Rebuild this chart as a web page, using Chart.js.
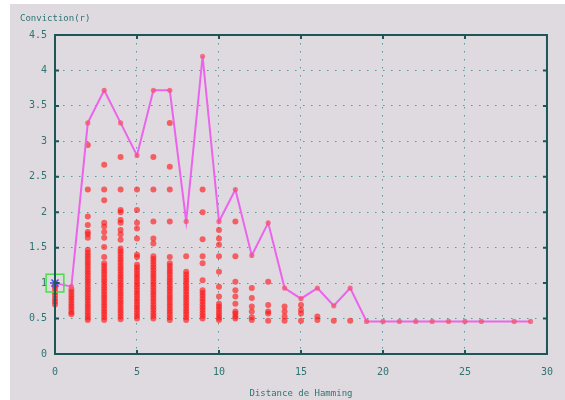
<!DOCTYPE html>
<html>
<head>
<meta charset="utf-8">
<script src="https://cdn.jsdelivr.net/npm/chart.js@4/dist/chart.umd.min.js"></script>
<style>
  html, body { margin: 0; padding: 0; background: #ffffff; }
  #c { display: block; }
</style>
</head>
<body>
<canvas id="c" width="565" height="400"></canvas>
<script>
// Upper envelope: highest conviction reached at each Hamming distance
const hammingDistance = [0, 1, 2, 3, 4, 5, 6, 7, 8, 9, 10, 11, 12, 13, 14, 15, 16, 17, 18, 19,
                         20, 21, 22, 23, 24, 25, 26, 28, 29];
const maxConviction   = [1.00, 0.95, 3.26, 3.72, 3.26, 2.80, 3.72, 3.72, 1.87, 4.20,
                         1.87, 2.32, 1.39, 1.85, 0.93, 0.78, 0.93, 0.68, 0.93, 0.46,
                         0.46, 0.46, 0.46, 0.46, 0.46, 0.46, 0.46, 0.46, 0.46];

// Conviction of the individual rules, grouped by Hamming distance (index = distance)
const ruleConvictions = [
  [0.96, 0.92, 0.87, 0.83, 0.78, 0.74, 0.70],
  [0.91, 0.87, 0.83, 0.79, 0.75, 0.71, 0.67, 0.63, 0.59, 0.56],
  [2.95, 2.32, 1.94, 1.82, 1.72, 1.69, 1.64,
   1.47, 1.43, 1.39, 1.35, 1.31, 1.27, 1.23, 1.19, 1.15, 1.11, 1.07, 1.03, 0.99,
   0.95, 0.91, 0.87, 0.83, 0.79, 0.75, 0.71, 0.67, 0.63, 0.59, 0.55, 0.51, 0.48],
  [2.67, 2.32, 2.17, 1.85, 1.80, 1.72, 1.64, 1.51, 1.37,
   1.28, 1.24, 1.20, 1.16, 1.12, 1.08, 1.04, 1.00, 0.96, 0.92, 0.88, 0.84, 0.80,
   0.76, 0.72, 0.68, 0.64, 0.60, 0.56, 0.52, 0.48],
  [2.78, 2.32, 2.03, 2.00, 1.89, 1.85, 1.75, 1.69, 1.61,
   1.49, 1.45, 1.41, 1.37, 1.33, 1.29, 1.25, 1.21, 1.17, 1.13, 1.09, 1.05, 1.01,
   0.97, 0.93, 0.89, 0.85, 0.81, 0.77, 0.73, 0.69, 0.65, 0.61, 0.57, 0.53, 0.49],
  [2.32, 2.03, 1.85, 1.77, 1.63, 1.40, 1.37,
   1.26, 1.22, 1.18, 1.14, 1.10, 1.06, 1.02, 0.98, 0.94, 0.90, 0.86, 0.82, 0.78,
   0.74, 0.70, 0.66, 0.62, 0.58, 0.54, 0.50],
  [2.78, 2.32, 1.87, 1.63, 1.56,
   1.38, 1.34, 1.30, 1.26, 1.22, 1.18, 1.14, 1.10, 1.06, 1.02, 0.98, 0.94, 0.90,
   0.86, 0.82, 0.78, 0.74, 0.70, 0.66, 0.62, 0.58, 0.54, 0.50],
  [3.26, 2.64, 2.32, 1.87, 1.37,
   1.28, 1.24, 1.20, 1.16, 1.12, 1.08, 1.04, 1.00, 0.96, 0.92, 0.88, 0.84, 0.80,
   0.76, 0.72, 0.68, 0.64, 0.60, 0.56, 0.52, 0.48],
  [1.38, 1.16, 1.12, 1.08, 1.04,
   1.00, 0.96, 0.92, 0.88, 0.84, 0.80, 0.76, 0.72, 0.68, 0.64, 0.60, 0.56, 0.52, 0.48],
  [2.32, 2.00, 1.62, 1.38, 1.28, 1.04,
   0.90, 0.86, 0.82, 0.78, 0.74, 0.70, 0.66, 0.62, 0.58, 0.54, 0.50],
  [1.75, 1.63, 1.54, 1.38, 1.16, 0.95, 0.81,
   0.71, 0.67, 0.63, 0.59, 0.55, 0.51, 0.48],
  [1.87, 1.38, 1.02, 0.90, 0.81, 0.71, 0.60, 0.57, 0.53, 0.50],
  [0.93, 0.79, 0.67, 0.60, 0.52, 0.48],
  [1.02, 0.69, 0.60, 0.57, 0.47],
  [0.67, 0.60, 0.53, 0.47],
  [0.69, 0.62, 0.57, 0.47],
  [0.53, 0.48],
  [0.47],
  [0.47]
];

// Reference rule, highlighted with a star and a box
const referenceDistance = [0];
const referenceConviction = [1.0];

const TEXT = '#2d7474';
const FRAME = '#1d5656';
const GRID = '#3fa6a6';
const MONO = '"DejaVu Sans Mono", "Liberation Mono", monospace';

const envelopePoints = hammingDistance.map((d, i) => ({ x: d, y: maxConviction[i] }));
const rulePoints = [];
ruleConvictions.forEach((vals, d) => vals.forEach(v => rulePoints.push({ x: d, y: v })));
const referencePoints = referenceDistance.map((d, i) => ({ x: d, y: referenceConviction[i] }));

// Page background: white margin, grey panel
const panelBackground = {
  id: 'panelBackground',
  beforeDraw(chart) {
    const ctx = chart.ctx;
    ctx.save();
    ctx.fillStyle = '#ffffff';
    ctx.fillRect(0, 0, chart.width, chart.height);
    ctx.fillStyle = '#dfdadf';
    ctx.fillRect(10, 4, chart.width - 10, chart.height - 4);
    ctx.restore();
  }
};

// Closed frame with inward tick marks on all four sides
const plotFrame = {
  id: 'plotFrame',
  afterDatasetsDraw(chart) {
    const { ctx, chartArea: a, scales } = chart;
    ctx.save();
    ctx.strokeStyle = FRAME;
    ctx.lineWidth = 2;
    ctx.strokeRect(a.left, a.top, a.right - a.left, a.bottom - a.top);
    const len = 4;
    ctx.beginPath();
    scales.x.ticks.forEach(t => {
      const px = scales.x.getPixelForValue(t.value);
      ctx.moveTo(px, a.bottom); ctx.lineTo(px, a.bottom - len);
      ctx.moveTo(px, a.top); ctx.lineTo(px, a.top + len);
    });
    scales.y.ticks.forEach(t => {
      const py = scales.y.getPixelForValue(t.value);
      ctx.moveTo(a.left, py); ctx.lineTo(a.left + len, py);
      ctx.moveTo(a.right, py); ctx.lineTo(a.right - len, py);
    });
    ctx.stroke();
    ctx.restore();
  }
};

new Chart(document.getElementById('c'), {
  type: 'scatter',
  data: {
    datasets: [
      {
        label: 'box',
        data: referencePoints,
        pointStyle: 'rect',
        pointRadius: 12.5,
        pointBackgroundColor: 'rgba(0,0,0,0)',
        pointBorderColor: '#4ade4a',
        pointBorderWidth: 1.5,
        clip: false
      },
      {
        label: 'star',
        data: referencePoints,
        pointStyle: 'star',
        pointRadius: 5,
        pointBorderColor: '#4b4bf0',
        pointBorderWidth: 1.5,
        clip: false
      },
      {
        label: 'max',
        data: envelopePoints,
        showLine: true,
        borderColor: '#ec64ec',
        borderWidth: 2,
        pointRadius: 2.6,
        pointBackgroundColor: 'rgba(245,80,110,0.75)',
        pointBorderWidth: 0,
        clip: false
      },
      {
        label: 'rules',
        data: rulePoints,
        pointRadius: 3,
        pointBackgroundColor: 'rgba(255,20,20,0.62)',
        pointBorderWidth: 0,
        clip: false
      }
    ]
  },
  options: {
    responsive: false,
    devicePixelRatio: 1,
    animation: false,
    events: [],
    layout: { padding: { left: 20, right: 12, top: 0, bottom: 0 } },
    plugins: {
      legend: { display: false },
      tooltip: { enabled: false },
      title: {
        display: true,
        text: 'Conviction(r)',
        align: 'start',
        color: TEXT,
        font: { family: MONO, size: 9, weight: 'normal' },
        padding: { top: 13, bottom: 11.2 }
      }
    },
    scales: {
      x: {
        type: 'linear',
        min: 0, max: 30,
        ticks: { stepSize: 5, color: TEXT, padding: 12, font: { family: MONO, size: 10 },
                 callback: v => String(v) },
        grid: { color: GRID, lineWidth: 1, drawTicks: false },
        border: { display: false, dash: [1.5, 6.5] },
        title: {
          display: true,
          text: 'Distance de Hamming',
          color: TEXT,
          font: { family: MONO, size: 9 },
          padding: { top: 0, bottom: 1 }
        },
        afterFit(scale) { scale.height = 46; }
      },
      y: {
        type: 'linear',
        min: 0, max: 4.5,
        ticks: { stepSize: 0.5, color: TEXT, padding: 8, font: { family: MONO, size: 10 },
                 callback: v => String(v) },
        grid: { color: GRID, lineWidth: 1, drawTicks: false },
        border: { display: false, dash: [1.5, 6.5] },
        afterFit(scale) { scale.width = 35; }
      }
    }
  },
  plugins: [panelBackground, plotFrame]
});
</script>
</body>
</html>
